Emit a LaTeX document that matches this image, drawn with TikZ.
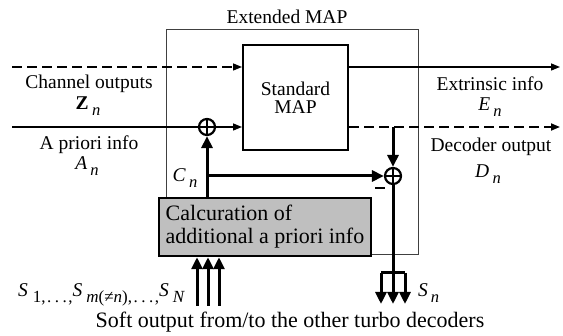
\documentclass[tikz,border=0pt]{standalone}
\usepackage{fontspec}
\setmainfont{Liberation Serif}
\usetikzlibrary{arrows.meta}
\newcommand\sbs[1]{\raisebox{-6pt}{\fontsize{16.5}{16.5}\selectfont #1}}
\newcommand\sbsb[1]{\raisebox{-6pt}{\fontsize{17}{17}\selectfont #1}}
\newcommand\spdots{,\kern1.5pt.\kern3.5pt.\kern3.5pt.\kern1.5pt,}
\begin{document}
\begin{tikzpicture}[x=1pt,y=-1pt,
 lbl/.style={anchor=base,inner sep=0pt,font=\fontsize{19.5}{19.5}\selectfont},
 thinarr/.style={line width=1.4pt,-{Triangle[length=9pt,width=7pt]}},
 dsh/.style={dash pattern=on 10pt off 5pt},
 thickarr/.style={line width=3pt,-{Triangle[length=12pt,width=11pt]}},
 sumnode/.style={circle,draw,line width=2.2pt,minimum size=16pt,inner sep=0pt,
   path picture={\draw[line width=1.8pt] (path picture bounding box.north) -- (path picture bounding box.south) (path picture bounding box.west) -- (path picture bounding box.east);}}
]
\useasboundingbox (0,0) rectangle (563,336);
% boxes
\node[draw=black!75,line width=0.7pt,minimum width=252pt,minimum height=225pt,inner sep=0pt] (ext) at (292,141.5) {};
\node[lbl] (extl) at (287,24) {Extended MAP};
\node[draw,line width=2pt,minimum width=105pt,minimum height=105pt,inner sep=0pt,align=center,font=\fontsize{19.5}{18}\selectfont] (std) at (295.5,97.5) {Standard\\MAP};
\node[draw,line width=2.5pt,fill=black!25,minimum width=212pt,minimum height=58pt,inner sep=0pt,align=left,font=\fontsize{22}{23}\selectfont] (calc) at (265,227) {Calcuration of\\additional a priori info};
\node[sumnode] (p1) at (207,127) {};
\node[sumnode] (p2) at (393,176) {};
% coordinates
\coordinate (chin) at (12,67);
\coordinate (ain) at (12,127);
\coordinate (eout) at (560,67);
\coordinate (dout) at (560,127);
\coordinate (fk) at (393,273);
\coordinate (fkl) at (381,273);
\coordinate (fkr) at (405,273);
\coordinate (d1) at (381,304);
\coordinate (d2) at (393,304);
\coordinate (d3) at (405,304);
\coordinate (u1) at (197,306);
\coordinate (u2) at (208,306);
\coordinate (u3) at (219,306);
% connectors
\draw[thinarr,dsh] (chin) -- (chin -| std.west);
\draw[line width=1.4pt] (ain) -- (p1);
\draw[thinarr] (p1) -- (p1 -| std.west);
\draw[thinarr] (eout -| std.east) -- (eout);
\draw[thinarr,dsh,line width=1.8pt] (dout -| std.east) -- (dout);
\draw[thickarr] (dout -| p2) -- (p2);
\draw[thickarr] (p1 |- calc.north) -- (p1);
\draw[thickarr] (p1 |- p2) -- (p2);
\draw[line width=3pt] (p2) -- (fk);
\draw[line width=3pt] (fkl) -- (fkr);
\draw[thickarr] (fkl) -- (d1);
\draw[thickarr] (fk) -- (d2);
\draw[thickarr] (fkr) -- (d3);
\draw[thickarr] (u1) -- (u1 |- calc.south);
\draw[thickarr] (u2) -- (u2 |- calc.south);
\draw[thickarr] (u3) -- (u3 |- calc.south);
\node[fill,inner sep=0pt,minimum width=10pt,minimum height=1.5pt] (minus) at (380,188) {};
% labels
\node[lbl] (chl) at (89,89) {Channel outputs};
\node[lbl] (zl) at (88,110) {\textbf{Z}\,\sbs{\textit{n}}};
\node[lbl] (apl) at (89,150) {A priori info};
\node[lbl] (al) at (87,170) {\textit{A}\,\sbs{\textit{n}}};
\node[lbl] (exl) at (490,91) {Extrinsic info};
\node[lbl] (el) at (490,111) {\textit{E}\,\sbs{\textit{n}}};
\node[lbl] (dol) at (491,152) {Decoder output};
\node[lbl] (dl) at (488,178) {\textit{D}\,\sbs{\textit{n}}};
\node[lbl] (cl) at (185,182) {\textit{C}\,\sbs{\textit{n}}};
\node[lbl,anchor=base west] (sl) at (18,297) {\textit{S}\kern5pt\sbsb{1\spdots}\textit{S}\kern4pt\sbsb{\textit{m}(≠\textit{n})\spdots}\textit{S}\kern4pt\sbsb{\textit{N}}};
\node[lbl,anchor=base west] (snl) at (418,297) {\textit{S}\kern3pt\sbs{\textit{n}}};
\node[lbl,font=\fontsize{22}{22}\selectfont] (bot) at (290,328) {Soft output from/to the other turbo decoders};
\end{tikzpicture}
\end{document}
